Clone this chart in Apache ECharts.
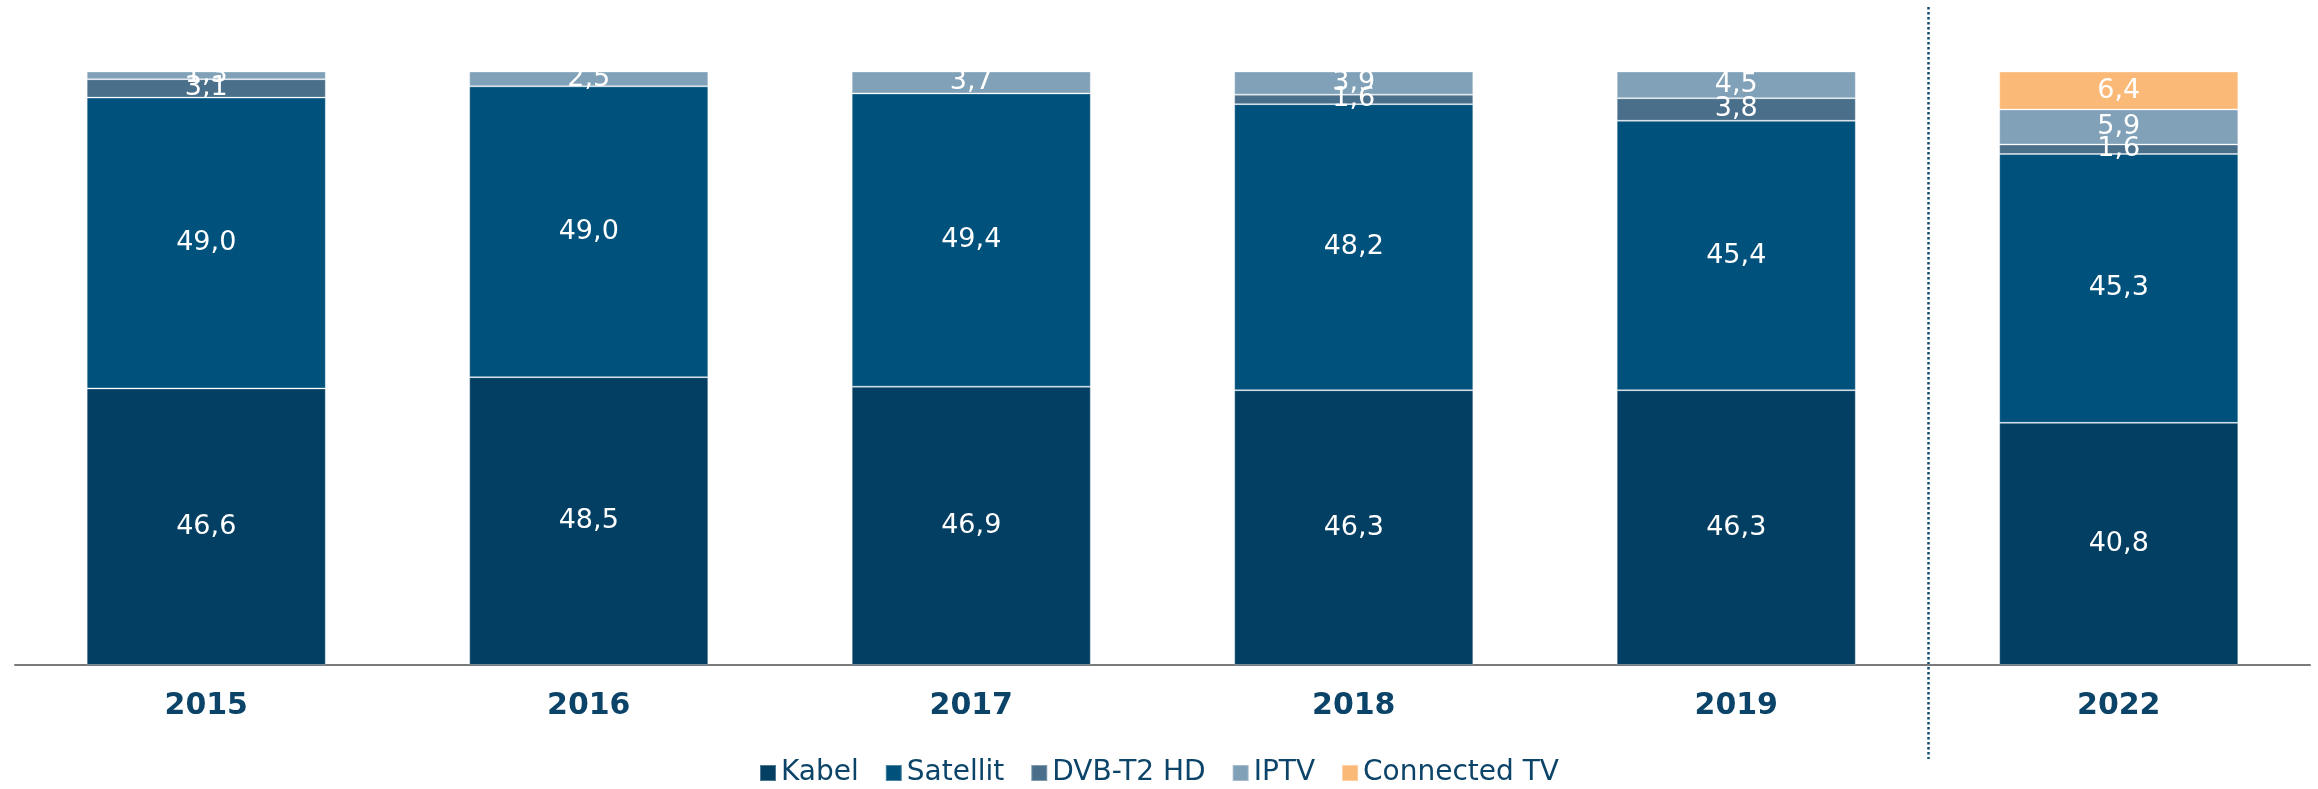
<!DOCTYPE html>
<html>
<head>
<meta charset="utf-8">
<script src="https://cdn.jsdelivr.net/npm/echarts@6/dist/echarts.min.js"></script>
<style>
html,body{margin:0;padding:0;background:#fff;}
#chart{width:2318px;height:789px;}
</style>
</head>
<body>
<div id="chart"></div>
<script>
const categories = ['2015', '2016', '2017', '2018', '2019', '2022'];
const kabel = [46.6, 48.5, 46.9, 46.3, 46.3, 40.8];
const satellit = [49.0, 49.0, 49.4, 48.2, 45.4, 45.3];
const dvbt2 = [3.1, null, null, 1.6, 3.8, 1.6];
const iptv = [1.3, 2.5, 3.7, 3.9, 4.5, 5.9];
const connectedTv = [null, null, null, null, null, 6.4];
const seriesNames = ['Kabel', 'Satellit', 'DVB-T2 HD', 'IPTV', 'Connected TV'];
const colors = ['#033f63', '#01517d', '#4a6f8b', '#80a1b8', '#fbb977'];

const chart = echarts.init(document.getElementById('chart'));
const dataSets = [kabel, satellit, dvbt2, iptv, connectedTv];
const fontFam = '"DejaVu Sans", Verdana, sans-serif';

const series = dataSets.map((d, i) => ({
  name: seriesNames[i],
  type: 'bar',
  stack: 'total',
  barWidth: '62.5%',
  data: d,
  itemStyle: { color: colors[i], borderColor: 'rgba(255,255,255,0.3)', borderWidth: 1 },
  label: {
    show: true,
    position: 'inside',
    color: '#ffffff',
    fontFamily: fontFam,
    fontSize: 27,
    formatter: p => p.value == null ? '' : p.value.toFixed(1).replace('.', ',')
  },
  emphasis: { disabled: true }
}));

chart.setOption({
  animation: false,
  backgroundColor: '#ffffff',
  grid: { left: 15, right: 8, top: 71.5, bottom: 124, containLabel: false },
  legend: {
    data: seriesNames,
    bottom: -3,
    left: 'center',
    itemWidth: 16,
    itemHeight: 16,
    itemGap: 26,
    icon: 'rect',
    textStyle: { color: '#0b4468', fontFamily: fontFam, fontSize: 28 }
  },
  xAxis: {
    type: 'category',
    data: categories,
    axisLine: { show: true, lineStyle: { color: '#7a7a7a', width: 2 } },
    axisTick: { show: false },
    axisLabel: { color: '#0b4468', fontFamily: fontFam, fontSize: 30, fontWeight: 'bold', margin: 26 }
  },
  yAxis: {
    type: 'value',
    min: 0,
    max: 100,
    show: false,
    splitLine: { show: false }
  },
  series: series
});

// dotted divider between 2019 and 2022
const xa = chart.convertToPixel({ xAxisIndex: 0 }, '2019');
const xb = chart.convertToPixel({ xAxisIndex: 0 }, '2022');
const xm = Math.round((xa + xb) / 2) + 0.5;
chart.setOption({
  graphic: [{
    type: 'line',
    shape: { x1: xm, y1: 7, x2: xm, y2: 759 },
    style: { stroke: '#0f4c70', lineWidth: 2.5, lineDash: [2.5, 2.5] },
    silent: true
  }]
});
</script>
</body>
</html>
